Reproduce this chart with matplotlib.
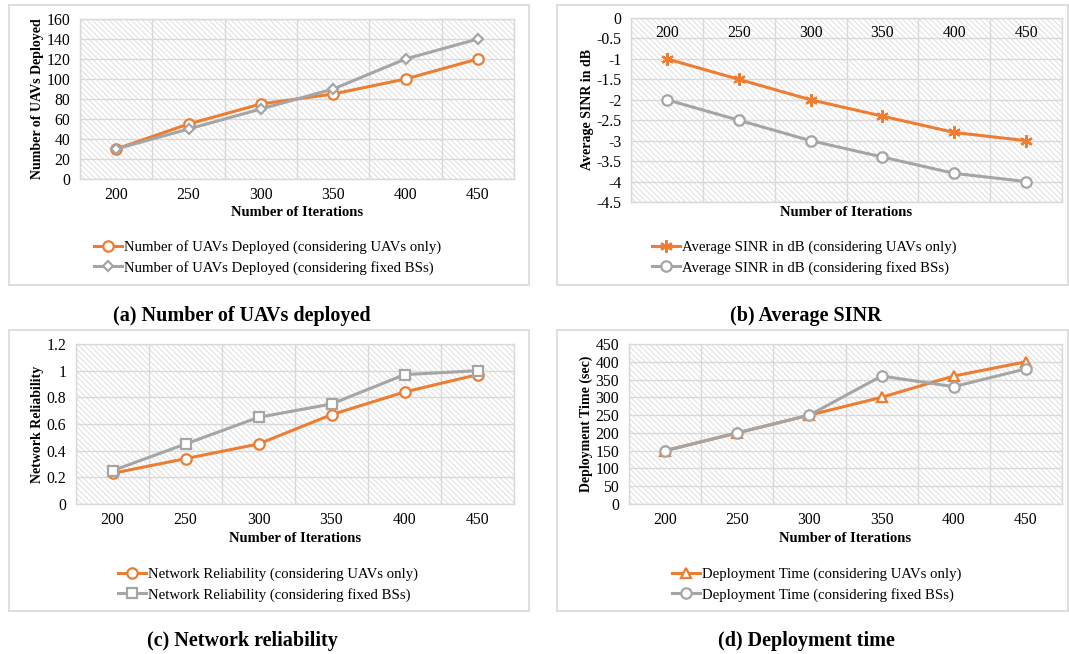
import matplotlib
matplotlib.use("Agg")
import matplotlib.pyplot as plt
from matplotlib.patches import Rectangle

plt.rcParams['font.family'] = ['Liberation Serif', 'DejaVu Serif']
plt.rcParams['axes.unicode_minus'] = False
plt.rcParams['hatch.linewidth'] = 0.5

# ---------------- data ----------------
iterations = ['200', '250', '300', '350', '400', '450']

uavs_deployed_uav_only = [30, 55, 75, 85, 100, 120]
uavs_deployed_fixed_bs = [30, 50, 70, 90, 120, 140]

sinr_uav_only = [-1, -1.5, -2, -2.4, -2.8, -3]
sinr_fixed_bs = [-2, -2.5, -3, -3.4, -3.8, -4]

reliability_uav_only = [0.23, 0.34, 0.45, 0.67, 0.84, 0.97]
reliability_fixed_bs = [0.25, 0.45, 0.65, 0.75, 0.97, 1.0]

deploy_time_uav_only = [150, 200, 250, 300, 360, 400]
deploy_time_fixed_bs = [150, 200, 250, 360, 330, 380]

ticks_a = [0, 20, 40, 60, 80, 100, 120, 140, 160]
ticks_b = [0, -0.5, -1, -1.5, -2, -2.5, -3, -3.5, -4, -4.5]
ticks_b_labels = ['0', '-0.5', '-1', '-1.5', '-2', '-2.5', '-3', '-3.5', '-4', '-4.5']
ticks_c = [0, 0.2, 0.4, 0.6, 0.8, 1.0, 1.2]
ticks_c_labels = ['0', '0.2', '0.4', '0.6', '0.8', '1', '1.2']
ticks_d = [0, 50, 100, 150, 200, 250, 300, 350, 400, 450]

ORANGE = '#ED7D31'
GRAY = '#A5A5A5'
GRID = '#d9d9d9'
TICK_FS = 11.3
LEG_FS = 10.6
LAB_FS = 10.5
CAP_FS = 14.5

W, H = 1069, 654
fig = plt.figure(figsize=(W / 100, H / 100), dpi=100)


def fx(x):
    return x / W


def fy(y):
    return 1 - y / H


def add_axes(x0, x1, y0, y1):
    return fig.add_axes([fx(x0), fy(y1), fx(x1 - x0), (y1 - y0) / H])


def add_box(x0, x1, y0, y1):
    fig.patches.append(Rectangle((fx(x0), fy(y1)), fx(x1 - x0), (y1 - y0) / H,
                                 transform=fig.transFigure, fill=False,
                                 edgecolor='#d9d9d9', lw=1.2, zorder=0))


def style_axes(ax, yticks, ylabels, ylim):
    n = len(iterations)
    ax.set_xlim(-0.5, n - 0.5)
    ax.set_ylim(*ylim)
    ax.add_patch(Rectangle((0, 0), 1, 1, transform=ax.transAxes,
                           hatch='\\\\\\\\\\\\',
                           fill=False, edgecolor='#d4d4d4', lw=0, zorder=0))
    for t in yticks:
        ax.axhline(t, color=GRID, lw=1.0, zorder=0.5)
    for i in range(n + 1):
        ax.axvline(i - 0.5, color=GRID, lw=1.0, zorder=0.5)
    ax.set_yticks(yticks)
    ax.set_yticklabels(ylabels, fontsize=TICK_FS)
    ax.tick_params(length=0, pad=7)
    for s in ax.spines.values():
        s.set_color(GRID)
        s.set_linewidth(1.0)
    ax.set_facecolor('white')


def bottom_xticks(ax):
    ax.set_xticks(range(len(iterations)))
    ax.set_xticklabels(iterations, fontsize=TICK_FS)
    ax.tick_params(axis='x', pad=6)


def plot_series(ax, y1, y2, m1, m2, ms1, ms2, lab1, lab2):
    x = list(range(len(iterations)))
    l1, = ax.plot(x, y1, color=ORANGE, lw=2.2, marker=m1, markersize=ms1,
                  markerfacecolor='white' if m1 != (6, 2, 0) else ORANGE,
                  markeredgecolor=ORANGE, markeredgewidth=1.6, zorder=3, label=lab1)
    l2, = ax.plot(x, y2, color=GRAY, lw=2.2, marker=m2, markersize=ms2,
                  markerfacecolor='white', markeredgecolor=GRAY,
                  markeredgewidth=1.6, zorder=4, label=lab2)
    return l1, l2


def legend(ax, handles, x, y):
    ax.legend(handles=handles, loc='center left', bbox_to_anchor=(fx(x), fy(y)),
              bbox_transform=fig.transFigure, frameon=False, fontsize=LEG_FS,
              borderaxespad=0, borderpad=0, handlelength=1.9, handletextpad=0.12,
              labelspacing=0.45)


serif_bold = dict(fontweight='bold')

# ---------------- boxes ----------------
add_box(9, 529, 5, 285)
add_box(557, 1068, 5, 285)
add_box(9, 529, 330, 611)
add_box(557, 1068, 330, 611)

# ---------------- (a) ----------------
ax = add_axes(80, 514, 19, 179)
style_axes(ax, ticks_a, [str(t) for t in ticks_a], (0, 160))
bottom_xticks(ax)
h = plot_series(ax, uavs_deployed_uav_only, uavs_deployed_fixed_bs, 'o', 'D', 7.5, 5,
                'Number of UAVs Deployed (considering UAVs only)',
                'Number of UAVs Deployed (considering fixed BSs)')
ax.set_ylabel('Number of UAVs Deployed', fontsize=10, labelpad=1.5, **serif_bold)
fig.text(fx(297), fy(212), 'Number of Iterations', ha='center', va='center',
         fontsize=LAB_FS, **serif_bold)
legend(ax, h, 94, 257.5)
fig.text(fx(242), fy(316), '(a) Number of UAVs deployed', ha='center', va='center',
         fontsize=CAP_FS, **serif_bold)

# ---------------- (b) ----------------
ax = add_axes(631, 1062, 18, 202)
style_axes(ax, ticks_b, ticks_b_labels, (-4.5, 0))
ax.set_xticks([])
for i, lab in enumerate(iterations):
    ax.text(i, 0.918, lab, transform=ax.get_xaxis_transform(), ha='center',
            va='center', fontsize=TICK_FS, zorder=5)
h = plot_series(ax, sinr_uav_only, sinr_fixed_bs, (6, 2, 0), 'o', 9, 7.5,
                'Average SINR in dB (considering UAVs only)',
                'Average SINR in dB (considering fixed BSs)')
ax.set_ylabel('Average SINR in dB', fontsize=10, labelpad=1.5, **serif_bold)
fig.text(fx(846), fy(212), 'Number of Iterations', ha='center', va='center',
         fontsize=LAB_FS, **serif_bold)
legend(ax, h, 652, 257.5)
fig.text(fx(806), fy(316), '(b) Average SINR', ha='center', va='center',
         fontsize=CAP_FS, **serif_bold)

# ---------------- (c) ----------------
ax = add_axes(76, 514, 344, 504)
style_axes(ax, ticks_c, ticks_c_labels, (0, 1.2))
bottom_xticks(ax)
h = plot_series(ax, reliability_uav_only, reliability_fixed_bs, 'o', 's', 7.5, 7,
                'Network Reliability (considering UAVs only)',
                'Network Reliability (considering fixed BSs)')
ax.set_ylabel('Network Reliability', fontsize=10, labelpad=1.5, **serif_bold)
fig.text(fx(295), fy(538), 'Number of Iterations', ha='center', va='center',
         fontsize=LAB_FS, **serif_bold)
legend(ax, h, 118, 584.5)
fig.text(fx(242), fy(641), '(c) Network reliability', ha='center', va='center',
         fontsize=CAP_FS, **serif_bold)

# ---------------- (d) ----------------
ax = add_axes(629, 1062, 344, 504)
style_axes(ax, ticks_d, [str(t) for t in ticks_d], (0, 450))
bottom_xticks(ax)
h = plot_series(ax, deploy_time_uav_only, deploy_time_fixed_bs, '^', 'o', 7.5, 7.5,
                'Deployment Time (considering UAVs only)',
                'Deployment Time (considering fixed BSs)')
ax.set_ylabel('Deployment Time (sec)', fontsize=10, labelpad=1.5, **serif_bold)
fig.text(fx(845), fy(538), 'Number of Iterations', ha='center', va='center',
         fontsize=LAB_FS, **serif_bold)
legend(ax, h, 672, 584.5)
fig.text(fx(806), fy(641), '(d) Deployment time', ha='center', va='center',
         fontsize=CAP_FS, **serif_bold)

fig.savefig('out.png', dpi=100, facecolor='white')
